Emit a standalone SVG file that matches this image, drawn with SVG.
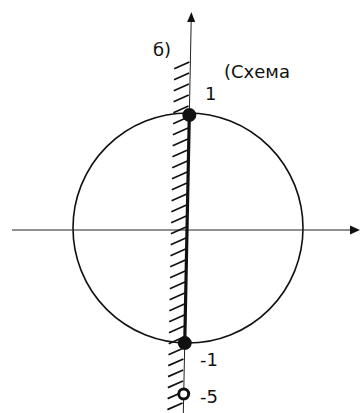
<svg xmlns="http://www.w3.org/2000/svg" width="360" height="413" viewBox="0 0 360 413">
<style>
.ax{stroke:#222;stroke-width:1;fill:none}
.thin{stroke:#111;fill:none}
.lbl{font-family:"DejaVu Sans","Liberation Sans",sans-serif;font-size:18px;fill:#111}
</style>
<rect width="360" height="413" fill="#fff"/>
<g id="circle"><circle cx="188" cy="228" r="115" class="thin" stroke-width="1.6"/></g>
<g id="x-axis">
<line x1="12" y1="230" x2="352" y2="230" class="ax"/>
<path d="M360 230 L350 225.5 L350 234.5 Z" fill="#111"/>
</g>
<g id="y-axis" transform="rotate(1.15 187 230)">
<line x1="187" y1="20" x2="187" y2="413" class="ax"/>
<path d="M187 12 L183 22 L191 22 Z" fill="#111"/>
<path class="thin" stroke-width="1.7" d="M171 69 l15 -7 m-15 18 l15 -7 m-15 18 l15 -7 m-15 18 l15 -7 m-15 18 l15 -7 m-15 18 l15 -7 m-15 18 l15 -7 m-15 18 l15 -7 m-15 18 l15 -7 m-15 18 l15 -7 m-15 18 l15 -7 m-15 18 l15 -7 m-15 18 l15 -7 m-15 18 l15 -7 m-15 18 l15 -7 m-15 18 l15 -7 m-15 18 l15 -7 m-15 18 l15 -7 m-15 18 l15 -7 m-15 18 l15 -7 m-15 18 l15 -7 m-15 18 l15 -7 m-15 18 l15 -7 m-15 18 l15 -7 m-15 18 l15 -7 m-15 18 l15 -7 m-15 18 l15 -7 m-15 18 l15 -7 m-15 18 l15 -7 m-15 18 l15 -7 m-15 18 l15 -7 m-15 18 l15 -7 m-15 18 l15 -7"/>
<line x1="187" y1="115" x2="187" y2="343" stroke="#111" stroke-width="3.2"/>
<g id="point-1"><circle cx="187" cy="115" r="7" fill="#111"/></g>
<g id="point-minus1"><circle cx="187" cy="343" r="7" fill="#111"/></g>
<g id="point-minus5"><circle cx="187" cy="394" r="5" fill="#fff" stroke="#111" stroke-width="3"/></g>
</g>
<g id="labels">
<text class="lbl" x="153" y="56">б)</text>
<text class="lbl" x="224" y="78">(Схема</text>
<text class="lbl" x="205" y="100">1</text>
<text class="lbl" x="200" y="366">-1</text>
<text class="lbl" x="200" y="403">-5</text>
</g>
</svg>
